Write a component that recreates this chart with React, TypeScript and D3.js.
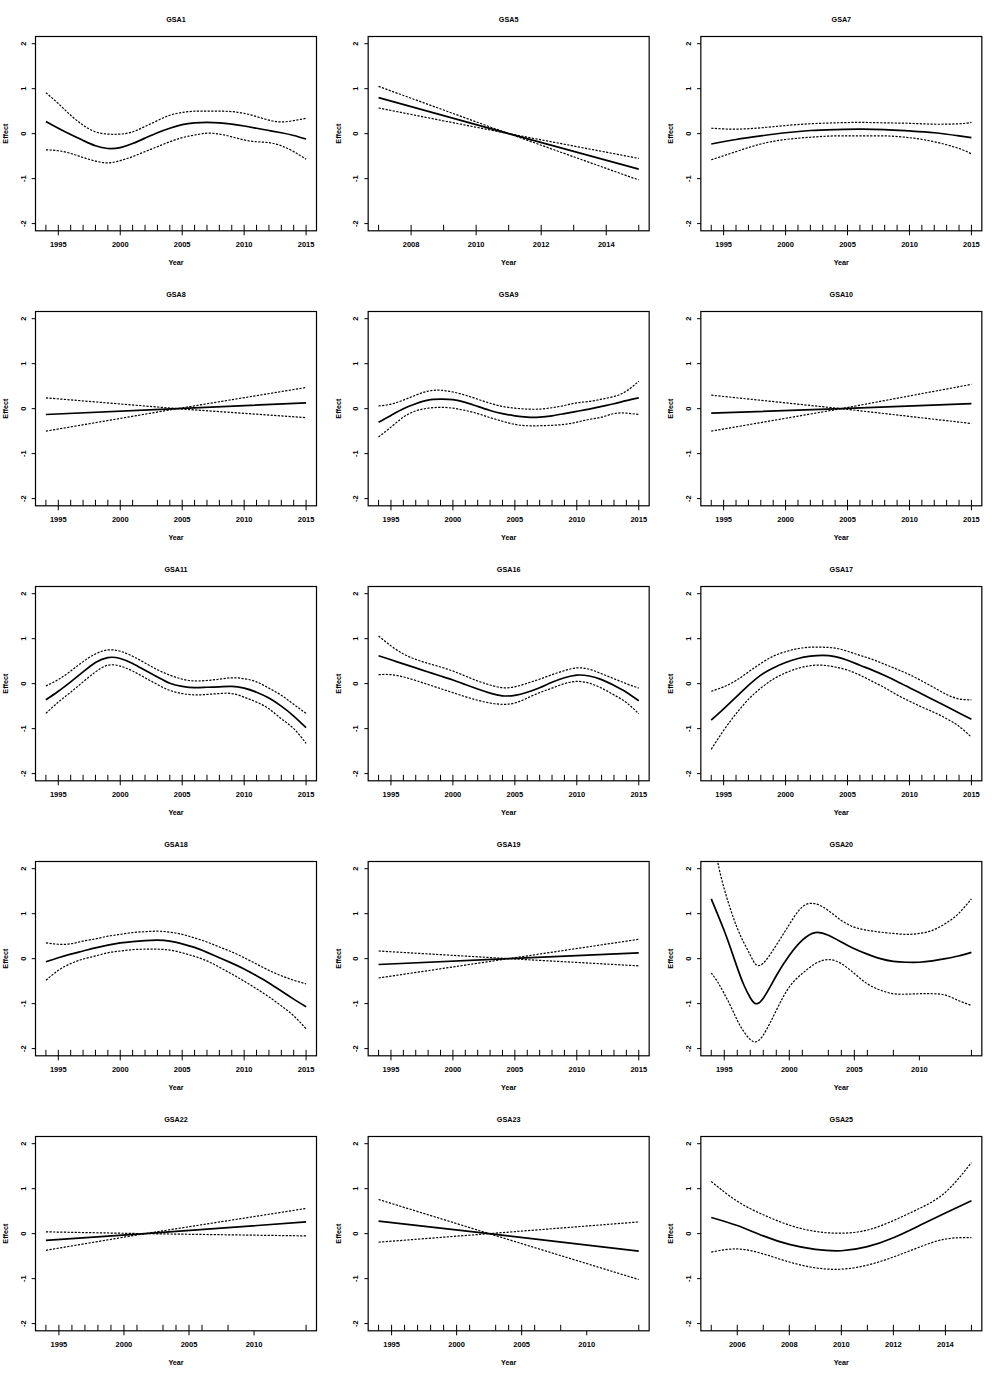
import * as d3 from 'd3';

// GAM smooth effects of Year, one panel per GSA: fit (solid) and ±2 SE bands (dotted).

const W = 998;
const H = 1375;
const PW = W / 3;
const PH = 275;
const BOX = { left: 35.5, right: 316.5, top: 36.5, bottom: 230.8 };
const FONT = '"Liberation Sans", Arial, Helvetica, sans-serif';

// ---- year grids / rugs ----
const YRS_94_15 = [1994, 1995, 1996, 1997, 1998, 1999, 2000, 2001, 2002, 2003, 2004, 2005, 2006, 2007, 2008, 2009, 2010, 2011, 2012, 2013, 2014, 2015];
const YRS_07_15 = [2007, 2008, 2009, 2010, 2011, 2012, 2013, 2014, 2015];
const YRS_05_15 = [2005, 2006, 2007, 2008, 2009, 2010, 2011, 2012, 2013, 2014, 2015];
const RUG_GSA8 = [1994, 1995, 1996, 1997, 1998, 1999, 2000, 2001, 2003, 2004, 2005, 2006, 2007, 2008, 2009, 2010, 2011, 2012, 2013, 2014, 2015];
const RUG_SPARSE = [1994, 1995, 1996, 1997, 1998, 1999, 2000, 2001, 2003, 2004, 2005, 2006, 2008, 2014];

const TICKS_95_15 = [1995, 2000, 2005, 2010, 2015];
const TICKS_95_10 = [1995, 2000, 2005, 2010];
const TICKS_08_14 = [2008, 2010, 2012, 2014];
const TICKS_06_14 = [2006, 2008, 2010, 2012, 2014];
const Y_TICKS = [-2, -1, 0, 1, 2];

// ---- GSA1 ----
const GSA1_FIT = [0.27, 0.12, -0.02, -0.15, -0.27, -0.33, -0.31, -0.22, -0.1, 0.02, 0.12, 0.2, 0.24, 0.25, 0.24, 0.21, 0.17, 0.12, 0.07, 0.02, -0.04, -0.12];
const GSA1_UP = [0.91, 0.67, 0.41, 0.19, 0.04, -0.01, -0.01, 0.04, 0.16, 0.29, 0.41, 0.47, 0.5, 0.5, 0.5, 0.49, 0.45, 0.38, 0.3, 0.26, 0.29, 0.34];
const GSA1_LO = [-0.36, -0.38, -0.44, -0.53, -0.61, -0.65, -0.6, -0.51, -0.4, -0.29, -0.18, -0.09, -0.03, 0.01, -0.01, -0.07, -0.14, -0.18, -0.2, -0.27, -0.4, -0.57];

// ---- GSA5 (linear) ----
const GSA5_X = [2007, 2011, 2015];
const GSA5_FIT = [0.8, 0.0, -0.79];
const GSA5_UP = [1.05, 0.0, -0.55];
const GSA5_LO = [0.57, 0.0, -1.03];

// ---- GSA7 ----
const GSA7_X = [1994, 1996, 1998, 2000, 2002, 2004, 2006, 2008, 2010, 2012, 2014, 2015];
const GSA7_FIT = [-0.23, -0.13, -0.05, 0.02, 0.07, 0.09, 0.1, 0.09, 0.06, 0.02, -0.05, -0.09];
const GSA7_UP = [0.12, 0.1, 0.13, 0.18, 0.22, 0.24, 0.25, 0.24, 0.23, 0.21, 0.22, 0.25];
const GSA7_LO = [-0.58, -0.4, -0.23, -0.13, -0.08, -0.05, -0.05, -0.05, -0.09, -0.18, -0.33, -0.45];

// ---- GSA8 (linear) ----
const GSA8_X = [1994, 2004.6, 2015];
const GSA8_FIT = [-0.13, 0.0, 0.13];
const GSA8_UP = [0.24, 0.0, 0.47];
const GSA8_LO = [-0.5, 0.0, -0.2];

// ---- GSA9 ----
const GSA9_FIT = [-0.3, -0.15, 0.0, 0.11, 0.19, 0.21, 0.2, 0.14, 0.05, -0.04, -0.11, -0.16, -0.19, -0.19, -0.16, -0.11, -0.06, -0.01, 0.05, 0.11, 0.18, 0.24];
const GSA9_UP = [0.06, 0.1, 0.19, 0.3, 0.39, 0.41, 0.37, 0.3, 0.21, 0.12, 0.05, 0.01, -0.01, -0.01, 0.02, 0.07, 0.13, 0.16, 0.21, 0.27, 0.39, 0.61];
const GSA9_LO = [-0.63, -0.41, -0.19, -0.05, 0.01, 0.03, 0.01, -0.04, -0.11, -0.2, -0.28, -0.35, -0.38, -0.38, -0.37, -0.35, -0.3, -0.24, -0.19, -0.11, -0.1, -0.13];

// ---- GSA10 (linear) ----
const GSA10_X = [1994, 2004.5, 2015];
const GSA10_FIT = [-0.1, 0.0, 0.11];
const GSA10_UP = [0.3, 0.0, 0.54];
const GSA10_LO = [-0.5, 0.0, -0.33];

// ---- GSA11 ----
const GSA11_FIT = [-0.36, -0.17, 0.04, 0.26, 0.47, 0.58, 0.56, 0.45, 0.3, 0.15, 0.01, -0.06, -0.09, -0.08, -0.07, -0.06, -0.1, -0.19, -0.32, -0.5, -0.72, -0.98];
const GSA11_UP = [-0.05, 0.09, 0.28, 0.49, 0.66, 0.75, 0.72, 0.61, 0.46, 0.31, 0.19, 0.1, 0.06, 0.07, 0.1, 0.13, 0.11, 0.04, -0.1, -0.26, -0.46, -0.66];
const GSA11_LO = [-0.66, -0.41, -0.19, 0.04, 0.26, 0.41, 0.39, 0.28, 0.13, -0.02, -0.15, -0.22, -0.25, -0.24, -0.22, -0.22, -0.3, -0.41, -0.56, -0.78, -1.0, -1.33];

// ---- GSA16 ----
const GSA16_FIT = [0.62, 0.53, 0.44, 0.35, 0.26, 0.17, 0.08, -0.02, -0.12, -0.21, -0.27, -0.26, -0.19, -0.09, 0.03, 0.13, 0.19, 0.17, 0.09, -0.04, -0.19, -0.38];
const GSA16_UP = [1.06, 0.84, 0.66, 0.54, 0.45, 0.37, 0.28, 0.17, 0.06, -0.03, -0.09, -0.07, 0.01, 0.1, 0.2, 0.29, 0.35, 0.32, 0.22, 0.11, 0.0, -0.1];
const GSA16_LO = [0.2, 0.2, 0.15, 0.07, -0.02, -0.11, -0.2, -0.29, -0.37, -0.43, -0.46, -0.43, -0.32, -0.2, -0.1, 0.0, 0.05, 0.01, -0.1, -0.25, -0.42, -0.67];

// ---- GSA17 ----
const GSA17_FIT = [-0.81, -0.56, -0.3, -0.04, 0.19, 0.35, 0.47, 0.56, 0.61, 0.63, 0.6, 0.52, 0.41, 0.3, 0.18, 0.05, -0.09, -0.23, -0.37, -0.51, -0.65, -0.79];
const GSA17_UP = [-0.17, -0.07, 0.07, 0.26, 0.45, 0.61, 0.71, 0.78, 0.81, 0.81, 0.79, 0.72, 0.63, 0.54, 0.43, 0.32, 0.2, 0.06, -0.09, -0.24, -0.34, -0.36];
const GSA17_LO = [-1.46, -1.04, -0.67, -0.35, -0.1, 0.1, 0.24, 0.34, 0.4, 0.41, 0.37, 0.3, 0.19, 0.05, -0.09, -0.25, -0.39, -0.52, -0.64, -0.78, -0.95, -1.19];

// ---- GSA18 ----
const GSA18_FIT = [-0.07, 0.02, 0.1, 0.17, 0.24, 0.3, 0.35, 0.38, 0.4, 0.41, 0.39, 0.33, 0.25, 0.14, 0.02, -0.1, -0.23, -0.38, -0.54, -0.72, -0.9, -1.07];
const GSA18_UP = [0.35, 0.32, 0.33, 0.39, 0.44, 0.5, 0.54, 0.58, 0.6, 0.61, 0.59, 0.54, 0.46, 0.37, 0.26, 0.15, 0.02, -0.12, -0.26, -0.38, -0.48, -0.56];
const GSA18_LO = [-0.48, -0.26, -0.11, -0.01, 0.06, 0.13, 0.17, 0.2, 0.21, 0.21, 0.19, 0.13, 0.05, -0.05, -0.19, -0.34, -0.5, -0.67, -0.85, -1.05, -1.27, -1.56];

// ---- GSA19 (linear) ----
const GSA19_X = [1994, 2004.5, 2015];
const GSA19_FIT = [-0.13, 0.0, 0.13];
const GSA19_UP = [0.17, 0.0, 0.43];
const GSA19_LO = [-0.43, 0.0, -0.16];

// ---- GSA20 ----
const GSA20_X = [1994, 1994.5, 1995, 1995.5, 1996, 1996.5, 1997, 1997.4, 1998, 1999, 2000, 2001, 2002, 2003, 2004, 2005, 2006, 2007, 2008, 2009, 2010, 2011, 2012, 2013, 2014];
const GSA20_FIT = [1.33, 0.98, 0.62, 0.22, -0.2, -0.58, -0.87, -1.0, -0.88, -0.38, 0.07, 0.41, 0.58, 0.52, 0.37, 0.22, 0.1, 0.0, -0.06, -0.08, -0.08, -0.05, 0.0, 0.06, 0.14];
const GSA20_UP = [3.0, 2.15, 1.55, 1.08, 0.68, 0.36, 0.08, -0.12, -0.1, 0.3, 0.76, 1.15, 1.22, 1.07, 0.85, 0.7, 0.63, 0.59, 0.56, 0.54, 0.56, 0.63, 0.78, 1.0, 1.33];
const GSA20_LO = [-0.32, -0.52, -0.78, -1.06, -1.37, -1.62, -1.8, -1.85, -1.7, -1.15, -0.63, -0.33, -0.11, -0.02, -0.11, -0.33, -0.56, -0.7, -0.78, -0.79, -0.78, -0.78, -0.81, -0.93, -1.04];

// ---- GSA22 (linear) ----
const GSA22_X = [1994, 2001.6, 2014];
const GSA22_FIT = [-0.15, 0.0, 0.26];
const GSA22_UP = [0.04, 0.0, 0.56];
const GSA22_LO = [-0.37, 0.0, -0.05];

// ---- GSA23 (linear) ----
const GSA23_X = [1994, 2002.5, 2014];
const GSA23_FIT = [0.28, 0.0, -0.39];
const GSA23_UP = [0.76, 0.0, 0.26];
const GSA23_LO = [-0.19, 0.0, -1.02];

// ---- GSA25 ----
const GSA25_FIT = [0.36, 0.18, -0.05, -0.24, -0.35, -0.38, -0.29, -0.09, 0.18, 0.46, 0.73];
const GSA25_UP = [1.16, 0.72, 0.42, 0.19, 0.05, 0.01, 0.08, 0.29, 0.56, 0.92, 1.58];
const GSA25_LO = [-0.41, -0.34, -0.45, -0.63, -0.76, -0.79, -0.7, -0.52, -0.3, -0.12, -0.09];

interface PanelData {
  title: string;
  x: number[];
  fit: number[];
  up: number[];
  lo: number[];
  rug: number[];
  ticks: number[];
  linear?: boolean;
}

const PANELS: PanelData[] = [
  { title: 'GSA1', x: YRS_94_15, fit: GSA1_FIT, up: GSA1_UP, lo: GSA1_LO, rug: YRS_94_15, ticks: TICKS_95_15 },
  { title: 'GSA5', x: GSA5_X, fit: GSA5_FIT, up: GSA5_UP, lo: GSA5_LO, rug: YRS_07_15, ticks: TICKS_08_14, linear: true },
  { title: 'GSA7', x: GSA7_X, fit: GSA7_FIT, up: GSA7_UP, lo: GSA7_LO, rug: YRS_94_15, ticks: TICKS_95_15 },
  { title: 'GSA8', x: GSA8_X, fit: GSA8_FIT, up: GSA8_UP, lo: GSA8_LO, rug: RUG_GSA8, ticks: TICKS_95_15, linear: true },
  { title: 'GSA9', x: YRS_94_15, fit: GSA9_FIT, up: GSA9_UP, lo: GSA9_LO, rug: YRS_94_15, ticks: TICKS_95_15 },
  { title: 'GSA10', x: GSA10_X, fit: GSA10_FIT, up: GSA10_UP, lo: GSA10_LO, rug: YRS_94_15, ticks: TICKS_95_15, linear: true },
  { title: 'GSA11', x: YRS_94_15, fit: GSA11_FIT, up: GSA11_UP, lo: GSA11_LO, rug: YRS_94_15, ticks: TICKS_95_15 },
  { title: 'GSA16', x: YRS_94_15, fit: GSA16_FIT, up: GSA16_UP, lo: GSA16_LO, rug: YRS_94_15, ticks: TICKS_95_15 },
  { title: 'GSA17', x: YRS_94_15, fit: GSA17_FIT, up: GSA17_UP, lo: GSA17_LO, rug: YRS_94_15, ticks: TICKS_95_15 },
  { title: 'GSA18', x: YRS_94_15, fit: GSA18_FIT, up: GSA18_UP, lo: GSA18_LO, rug: YRS_94_15, ticks: TICKS_95_15 },
  { title: 'GSA19', x: GSA19_X, fit: GSA19_FIT, up: GSA19_UP, lo: GSA19_LO, rug: YRS_94_15, ticks: TICKS_95_15, linear: true },
  { title: 'GSA20', x: GSA20_X, fit: GSA20_FIT, up: GSA20_UP, lo: GSA20_LO, rug: RUG_SPARSE, ticks: TICKS_95_10 },
  { title: 'GSA22', x: GSA22_X, fit: GSA22_FIT, up: GSA22_UP, lo: GSA22_LO, rug: RUG_SPARSE, ticks: TICKS_95_10, linear: true },
  { title: 'GSA23', x: GSA23_X, fit: GSA23_FIT, up: GSA23_UP, lo: GSA23_LO, rug: RUG_SPARSE, ticks: TICKS_95_10, linear: true },
  { title: 'GSA25', x: YRS_05_15, fit: GSA25_FIT, up: GSA25_UP, lo: GSA25_LO, rug: YRS_05_15, ticks: TICKS_06_14 },
];

function Panel({ p, index }: { p: PanelData; index: number }) {
  const col = index % 3;
  const row = Math.floor(index / 3);
  const ox = col * PW;
  const oy = row * PH;

  // R-style axis: data range padded by 4% on each side
  const [xmin, xmax] = d3.extent(p.rug) as [number, number];
  const pad = (xmax - xmin) * 0.04;
  const x = d3.scaleLinear().domain([xmin - pad, xmax + pad]).range([BOX.left, BOX.right]);
  const y = d3.scaleLinear().domain([-2.16, 2.16]).range([BOX.bottom, BOX.top]);

  const line = d3
    .line<number>()
    .x((_, i) => x(p.x[i]))
    .y((d) => y(d))
    .curve(p.linear ? d3.curveLinear : d3.curveNatural);

  const clipId = `clip-${index}`;
  const cx = (BOX.left + BOX.right) / 2;
  const cy = (BOX.top + BOX.bottom) / 2;

  return (
    <g transform={`translate(${ox},${oy})`}>
      <defs>
        <clipPath id={clipId}>
          <rect x={BOX.left} y={BOX.top} width={BOX.right - BOX.left} height={BOX.bottom - BOX.top} />
        </clipPath>
      </defs>

      <text x={cx} y={21.8} textAnchor="middle" fontSize={7.2} fontWeight="bold">
        {p.title}
      </text>

      {/* rug */}
      {p.rug.map((r) => (
        <line key={`r${r}`} x1={x(r)} x2={x(r)} y1={BOX.bottom} y2={BOX.bottom - 6} stroke="#000" strokeWidth={1} />
      ))}

      {/* x axis ticks + labels */}
      {p.ticks.map((t) => (
        <g key={`t${t}`}>
          <line x1={x(t)} x2={x(t)} y1={BOX.bottom} y2={BOX.bottom + 4.5} stroke="#000" strokeWidth={1} />
          <text x={x(t)} y={246.5} textAnchor="middle" fontSize={7.5} fontWeight="bold">
            {t}
          </text>
        </g>
      ))}
      <text x={cx} y={265} textAnchor="middle" fontSize={7.2} fontWeight="bold">
        Year
      </text>

      {/* y axis ticks + labels */}
      {Y_TICKS.map((t) => (
        <g key={`y${t}`}>
          <line x1={BOX.left} x2={BOX.left - 3.8} y1={y(t)} y2={y(t)} stroke="#000" strokeWidth={1} />
          <text
            transform={`translate(23,${y(t)}) rotate(-90)`}
            textAnchor="middle"
            dy="0.35em"
            fontSize={7.5}
            fontWeight="bold"
          >
            {t}
          </text>
        </g>
      ))}
      <text transform={`translate(5.5,${cy}) rotate(-90)`} textAnchor="middle" dy="0.35em" fontSize={7.2} fontWeight="bold">
        Effect
      </text>

      {/* smooth + bands */}
      <g clipPath={`url(#${clipId})`} fill="none" stroke="#000">
        <path d={line(p.up) ?? ''} strokeWidth={1.2} strokeDasharray="2.2,1.4" />
        <path d={line(p.lo) ?? ''} strokeWidth={1.2} strokeDasharray="2.2,1.4" />
        <path d={line(p.fit) ?? ''} strokeWidth={1.7} />
      </g>

      <rect
        x={BOX.left}
        y={BOX.top}
        width={BOX.right - BOX.left}
        height={BOX.bottom - BOX.top}
        fill="none"
        stroke="#000"
        strokeWidth={1.2}
      />
    </g>
  );
}

export default function App() {
  return (
    <svg
      width={W}
      height={H}
      style={{ position: 'absolute', left: 0, top: 0, background: '#fff' }}
      fontFamily={FONT}
      fill="#000"
    >
      <rect width={W} height={H} fill="#fff" />
      {PANELS.map((p, i) => (
        <Panel key={p.title} p={p} index={i} />
      ))}
    </svg>
  );
}
